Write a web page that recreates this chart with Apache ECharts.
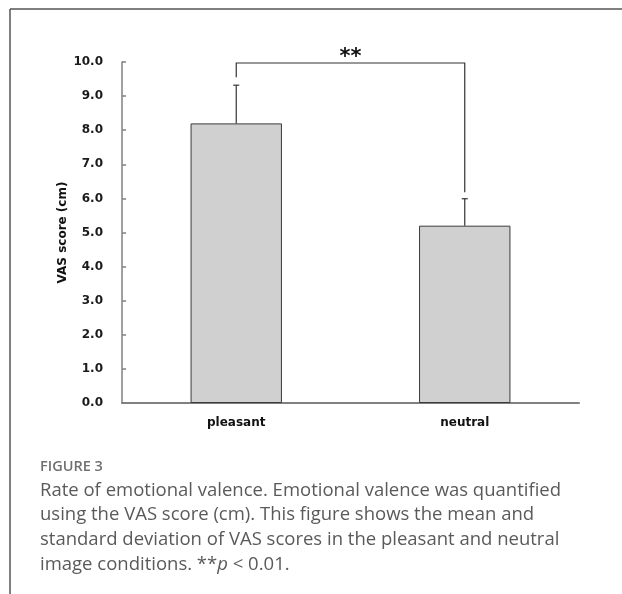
<!DOCTYPE html>
<html>
<head>
<meta charset="utf-8">
<script src="https://cdn.jsdelivr.net/npm/echarts@6/dist/echarts.min.js"></script>
<style>
html,body{margin:0;padding:0;background:#fff;}
#main{width:622px;height:594px;}
</style>
</head>
<body>
<div id="main"></div>
<script>
var categories = ['pleasant', 'neutral'];
var means = [8.2, 5.2];
var sds = [1.12, 0.79];
var yTicks = [0, 1, 2, 3, 4, 5, 6, 7, 8, 9, 10];
// bracket: [fromIndex, toIndex, topValue, leftDropValue, rightDropValue, label]
var bracket = [[0, 1, 9.97, 9.55, 6.18, '**']];

var chart = echarts.init(document.getElementById('main'), null, {renderer: 'canvas'});

var errData = means.map(function (m, i) { return [i, m, m + sds[i]]; });
var axisFont = 'DejaVu Sans';

var option = {
  animation: false,
  backgroundColor: '#fff',
  grid: {left: 122, right: 43, top: 62, bottom: 191, containLabel: false},
  xAxis: {
    type: 'category',
    data: categories,
    axisLine: {lineStyle: {color: '#808080', width: 2}},
    axisTick: {show: false},
    axisLabel: {color: '#111', fontFamily: axisFont, fontWeight: 'bold', fontSize: 12, margin: 14}
  },
  yAxis: {
    type: 'value',
    min: yTicks[0],
    max: yTicks[yTicks.length - 1],
    interval: 1,
    name: 'VAS score (cm)',
    nameLocation: 'middle',
    nameRotate: 90,
    nameGap: 53,
    nameMoveOverlap: false,
    nameTextStyle: {color: '#111', fontFamily: axisFont, fontWeight: 'bold', fontSize: 12},
    splitLine: {show: false},
    axisLine: {show: true, lineStyle: {color: '#808080', width: 1.5}},
    axisTick: {show: true, inside: true, length: 4, lineStyle: {color: '#808080', width: 1.5}},
    axisLabel: {
      color: '#1a1a1a', fontFamily: axisFont, fontWeight: 'bold', fontSize: 12, margin: 19,
      formatter: function (v) { return v.toFixed(1); }
    }
  },
  series: [
    {
      type: 'bar',
      data: means,
      barWidth: '40%',
      itemStyle: {color: '#d1d0d1', borderColor: '#3a3a3a', borderWidth: 1}
    },
    {
      type: 'custom',
      data: errData,
      z: 3,
      renderItem: function (params, api) {
        var x = api.value(0);
        var base = api.coord([x, api.value(1)]);
        var top = api.coord([x, api.value(2)]);
        var hw = 3;
        return {
          type: 'group',
          children: [
            {type: 'line', shape: {x1: base[0], y1: base[1], x2: top[0], y2: top[1]}, style: {stroke: '#333', lineWidth: 1.2}},
            {type: 'line', shape: {x1: top[0] - hw, y1: top[1], x2: top[0] + hw, y2: top[1]}, style: {stroke: '#333', lineWidth: 1.2}}
          ]
        };
      }
    },
    {
      type: 'custom',
      data: bracket,
      z: 3,
      renderItem: function (params, api) {
        var a = api.value(0), b = api.value(1);
        var tl = api.coord([a, api.value(2)]);
        var tr = api.coord([b, api.value(2)]);
        var bl = api.coord([a, api.value(3)]);
        var br = api.coord([b, api.value(4)]);
        return {
          type: 'group',
          children: [
            {type: 'polyline', shape: {points: [[bl[0], bl[1]], [tl[0], tl[1]], [tr[0], tr[1]], [br[0], br[1]]]}, style: {stroke: '#333', lineWidth: 1.2, fill: null}},
            {type: 'text', x: (tl[0] + tr[0]) / 2, y: tl[1] + 5, style: {text: bracket[params.dataIndex][5], fill: '#111', font: 'bold 21px "DejaVu Sans"', align: 'center', verticalAlign: 'bottom'}}
          ]
        };
      }
    }
  ],
  graphic: [
    {type: 'line', shape: {x1: 10, y1: 9, x2: 622, y2: 9}, style: {stroke: '#555', lineWidth: 1.5}},
    {type: 'line', shape: {x1: 10, y1: 9, x2: 10, y2: 594}, style: {stroke: '#555', lineWidth: 1.5}},
    {type: 'text', left: 40, top: 459, style: {text: 'FIGURE 3', fill: '#707070', font: '600 14.5px "Open Sans"'}},
    {type: 'text', left: 40, top: 478, style: {
      text: 'Rate of emotional valence. Emotional valence was quantified\nusing the VAS score (cm). This figure shows the mean and\nstandard deviation of VAS scores in the pleasant and neutral\nimage conditions. **{i|p} < 0.01.',
      fill: '#5a5a5a', font: '18.5px "Open Sans"', lineHeight: 24.8,
      rich: {i: {fontStyle: 'italic', fontFamily: 'Open Sans', fontSize: 18.5, fill: '#5a5a5a'}}
    }}
  ]
};
chart.setOption(option);
</script>
</body>
</html>
